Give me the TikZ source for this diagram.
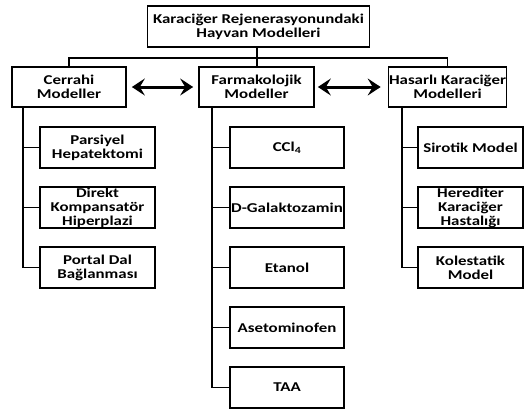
\documentclass[tikz,border=0pt]{standalone}
\usepackage{fontspec}
\setmainfont{Carlito}[FakeStretch=1.25]
\usetikzlibrary{arrows.meta}
\begin{document}
\begin{tikzpicture}[x=1pt,y=-1pt,
  box/.style={draw,line width=1.7pt,minimum height=41pt,align=center,inner sep=0.5pt,
    font=\fontsize{13.5}{14}\selectfont\bfseries},
  wire/.style={line width=1.7pt},
  link/.style={line width=3pt,{Stealth[length=13pt,width=17pt,inset=5pt]}-{Stealth[length=13pt,width=17pt,inset=5pt]}}]
\useasboundingbox (0,0) rectangle (526,412);

% root
\node[box,minimum width=222pt] (root) at (258.5,26.5) {Karaciğer Rejenerasyonundaki\\Hayvan Modelleri};

% second level
\node[box,minimum width=114pt,minimum height=40pt] (cer) at (69,87) {Cerrahi\\Modeller};
\node[box,minimum width=115pt,minimum height=40pt] (far) at (256.5,87) {Farmakolojik\\Modeller};
\node[box,minimum width=116pt,minimum height=40pt] (has) at (447.5,87) {Hasarlı Karaciğer\\Modelleri};

% surgical models
\node[box,minimum width=115pt] (c1) at (97.5,147.5) {Parsiyel\\Hepatektomi};
\node[box,minimum width=115pt] (c2) at (97.5,207.5) {Direkt\\Kompansatör\\Hiperplazi};
\node[box,minimum width=115pt] (c3) at (97.5,267.5) {Portal Dal\\Bağlanması};

% pharmacological models
\node[box,minimum width=114pt] (f1) at (287,147.5) {CCl\textsubscript{4}};
\node[box,minimum width=114pt] (f2) at (287,207.5) {D-Galaktozamin};
\node[box,minimum width=114pt] (f3) at (287,267.5) {Etanol};
\node[box,minimum width=114pt] (f4) at (287,327.5) {Asetominofen};
\node[box,minimum width=114pt] (f5) at (287,387.5) {TAA};

% damaged liver models
\node[box,minimum width=105pt] (h1) at (470.5,147.5) {Sirotik Model};
\node[box,minimum width=105pt] (h2) at (470.5,207.5) {Herediter\\Karaciğer\\Hastalığı};
\node[box,minimum width=105pt] (h3) at (470.5,267.5) {Kolestatik\\Model};

% bus from root to second level
\coordinate (bus) at (257,58);
\draw[wire] (root.south -| bus) -- (bus);
\draw[wire] (cer.north) -- (cer.north |- bus) -| (has.north);
\draw[wire] (far.north -| bus) -- (bus);

% trunks
\coordinate (tc) at (23,0);
\coordinate (tf) at (212,0);
\coordinate (th) at (402,0);
\draw[wire] (cer.south -| tc) |- (c3.west);
\draw[wire] (c1.west) -- (c1.west -| tc);
\draw[wire] (c2.west) -- (c2.west -| tc);
\draw[wire] (far.south -| tf) |- (f5.west);
\foreach \n in {f1,f2,f3,f4} \draw[wire] (\n.west) -- (\n.west -| tf);
\draw[wire] (has.south -| th) |- (h3.west);
\draw[wire] (h1.west) -- (h1.west -| th);
\draw[wire] (h2.west) -- (h2.west -| th);

% relations between model groups
\draw[link] ([xshift=5pt]cer.east) -- ([xshift=-5pt]far.west);
\draw[link] ([xshift=3pt]far.east) -- ([xshift=-7pt]has.west);
\end{tikzpicture}
\end{document}
